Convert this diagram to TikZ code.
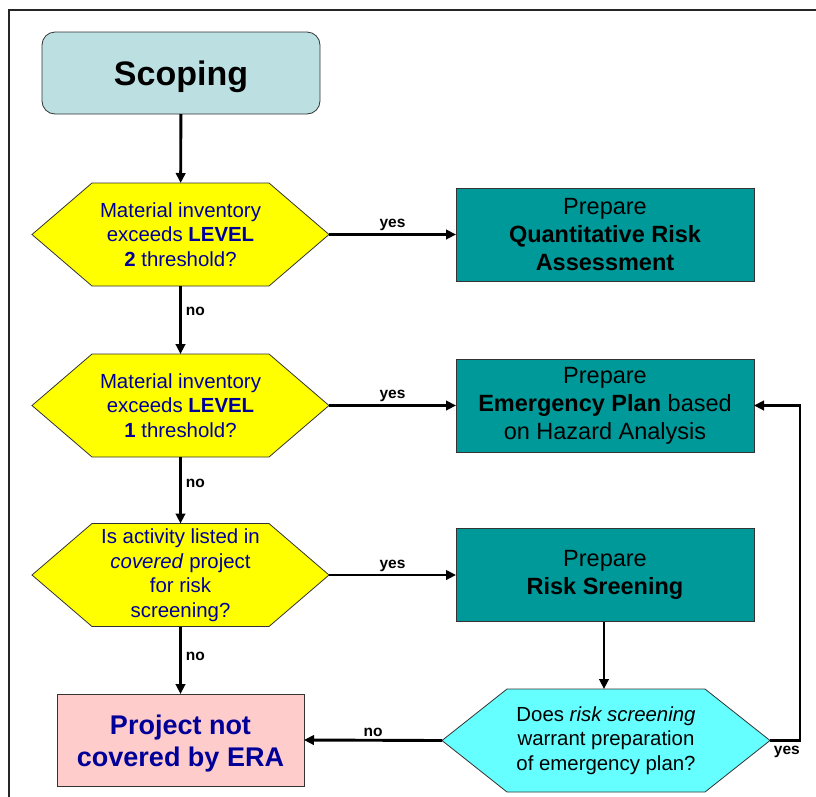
\documentclass[tikz,border=0pt]{standalone}
\usepackage{fontspec}
\setmainfont{Liberation Sans}
\usetikzlibrary{arrows.meta,backgrounds,calc}

\definecolor{scopefill}{RGB}{188,224,226}
\definecolor{tealfill}{RGB}{0,153,153}
\definecolor{hexyellow}{RGB}{255,255,0}
\definecolor{hexcyan}{RGB}{102,255,255}
\definecolor{pinkfill}{RGB}{255,204,204}
\definecolor{navytext}{RGB}{0,0,153}

\tikzset{
  startbox/.style={rounded corners=13pt, draw=black!80, line width=0.8pt, fill=scopefill,
    minimum width=278pt, minimum height=82pt, outer sep=0pt, text depth=0pt,
    font=\fontsize{34}{40}\selectfont\bfseries},
  actbox/.style={draw=black!80, line width=0.8pt, fill=tealfill, minimum width=298pt,
    minimum height=93pt, outer sep=0pt, align=center, font=\fontsize{23.5}{28}\selectfont},
  hexnode/.style={minimum width=297pt, minimum height=103pt, inner sep=0pt, outer sep=0pt,
    align=center, text=navytext, font=\fontsize{20.4}{24.5}\selectfont},
  endbox/.style={draw=black!80, line width=0.8pt, fill=pinkfill, minimum width=247pt,
    minimum height=92pt, outer sep=0pt},
  endtext/.style={align=center, text=navytext, inner sep=0pt,
    font=\fontsize{27}{32}\selectfont\bfseries},
  flow/.style={line width=2.9pt, -{Triangle[length=10pt,width=9.5pt]}},
  lbl/.style={font=\fontsize{15.5}{18}\selectfont\bfseries, inner sep=2pt},
  hexline/.style={draw=black!80, line width=0.8pt}
}

\begin{document}
\begin{tikzpicture}[x=1pt,y=-1pt]
\useasboundingbox (0,0) rectangle (816,796);

% page frame (left and top edges)
\draw[line width=1.4pt, black!85] (822,10) -- (9,10) -- (9,802);

% nodes
\node[startbox] (scope) at (181,73) {Scoping};

\node[hexnode] (h1) at (180.5,234.5) {Material inventory\\exceeds \textbf{LEVEL}\\\textbf{2} threshold?};
\node[hexnode] (h2) at (180.5,405.5) {Material inventory\\exceeds \textbf{LEVEL}\\\textbf{1} threshold?};
\node[hexnode] (h3) at (180.5,575) {Is activity listed in\\\textit{covered} project\\for risk\\screening?};

\node[actbox] (qra) at (605,234.5) {Prepare\\\textbf{Quantitative Risk}\\\textbf{Assessment}};
\node[actbox] (ep) at (605,405.5) {Prepare\\\textbf{Emergency Plan} based\\on Hazard Analysis};
\node[actbox] (rs) at (605,575) {Prepare\\\textbf{Risk Sreening}};

\node[endbox] (out) at (180.5,740) {};
\node[endtext] (outtext) at ([yshift=-4pt]out.center) {Project not\\covered by ERA};
\node[hexnode, minimum width=328pt, text=black] (dq) at (606,740.5)
  {Does \textit{risk screening}\\warrant preparation\\of emergency plan?};

% hexagon outlines behind the decision texts
\begin{scope}[on background layer]
  \foreach \n/\c/\s in {h1/hexyellow/60, h2/hexyellow/60, h3/hexyellow/60, dq/hexcyan/65}
    \filldraw[fill=\c, hexline] (\n.west) -- ([xshift=\s pt]\n.north west)
      -- ([xshift=-\s pt]\n.north east) -- (\n.east)
      -- ([xshift=-\s pt]\n.south east) -- ([xshift=\s pt]\n.south west) -- cycle;
\end{scope}

% main column
\draw[flow] (scope) -- (h1);
\draw[flow] (h1) -- node[lbl, anchor=west, pos=0.38, xshift=2pt] {no} (h2);
\draw[flow] (h2) -- node[lbl, anchor=west, pos=0.40, xshift=2pt] {no} (h3);
\draw[flow] (h3) -- node[lbl, anchor=west, pos=0.45, xshift=2pt] {no} (out);

% yes branches
\draw[flow] (h1.east) -- node[lbl, above] {yes} (qra.west);
\draw[flow] (h2.east) -- node[lbl, above] {yes} (ep.west);
\draw[flow] (h3.east) -- node[lbl, above] {yes} (rs.west);

% screening outcome
\draw[flow] ([xshift=-1pt]rs.south) -- ([xshift=-1pt]rs.south |- dq.north);
\draw[flow] (dq.west) -- node[lbl, above] {no} (out.east);
\coordinate (loop) at (800,740.5);
\draw[flow] (dq.east) -- (loop) |- (ep.east);
\node[lbl, anchor=north east] (yeslbl) at ([xshift=2pt,yshift=-3pt]loop) {yes};
\end{tikzpicture}
\end{document}
